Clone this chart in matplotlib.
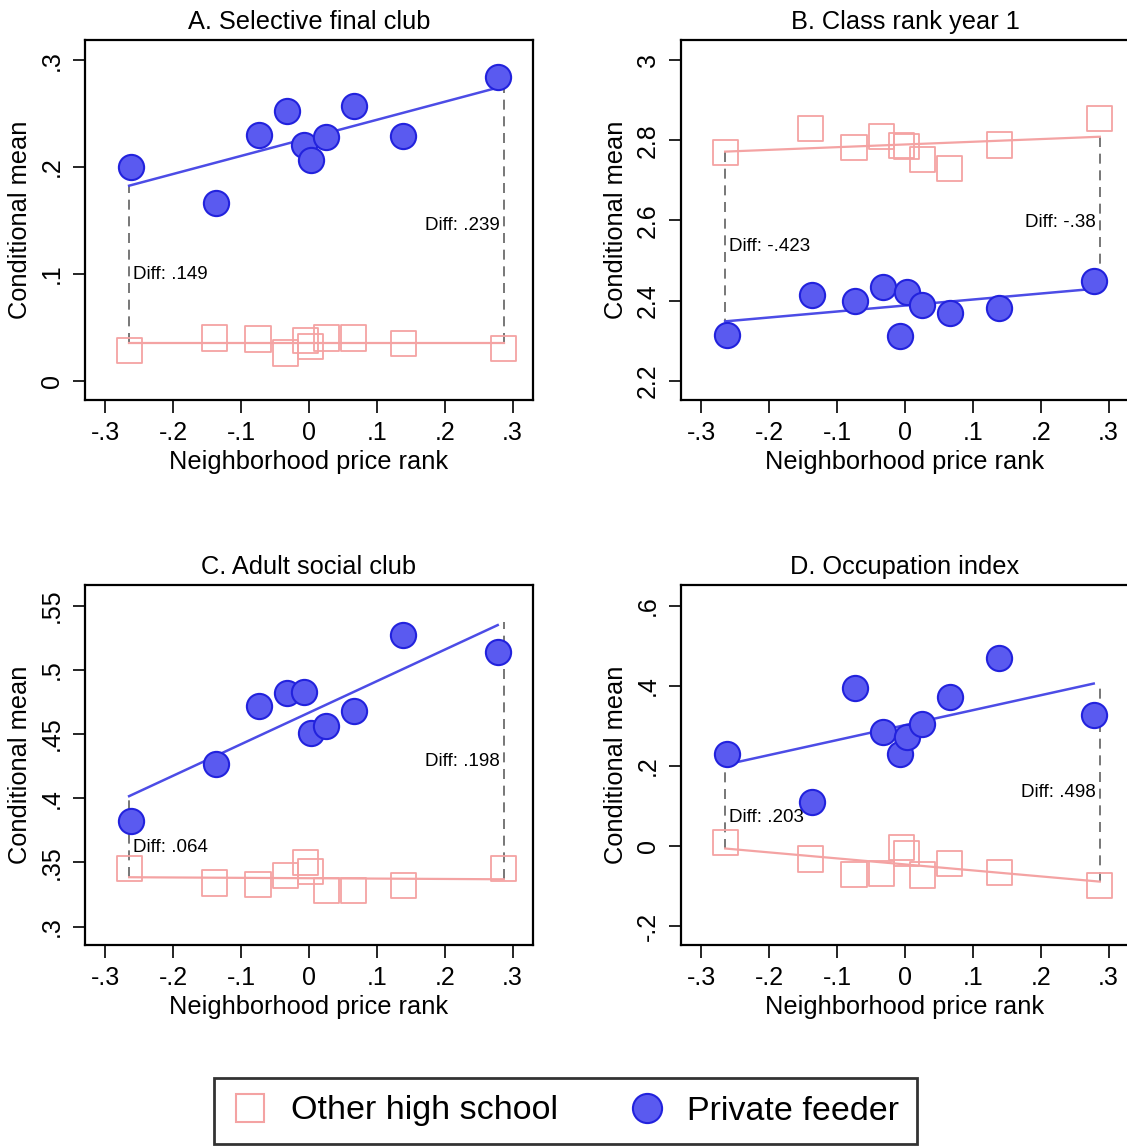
import numpy as np
import matplotlib
matplotlib.use("Agg")
import matplotlib.pyplot as plt
from matplotlib.ticker import FuncFormatter
from matplotlib.lines import Line2D

plt.rcParams['font.family'] = ['Liberation Sans', 'DejaVu Sans']

# x positions of the binned points (neighborhood price rank)
priv_x = [-0.262, -0.137, -0.074, -0.032, -0.008, 0.003, 0.025, 0.066, 0.139, 0.278]
other_x = [-0.265, -0.139, -0.075, -0.035, -0.005, 0.002, 0.026, 0.065, 0.139, 0.287]

titles = ["A. Selective final club", "B. Class rank year 1",
          "C. Adult social club", "D. Occupation index"]

# conditional means, private feeder
priv_a = [0.200, 0.166, 0.230, 0.253, 0.221, 0.207, 0.228, 0.257, 0.229, 0.284]
priv_b = [2.313, 2.415, 2.399, 2.435, 2.312, 2.421, 2.388, 2.370, 2.382, 2.449]
priv_c = [0.382, 0.4265, 0.472, 0.482, 0.483, 0.451, 0.456, 0.468, 0.527, 0.514]
priv_d = [0.230, 0.111, 0.394, 0.286, 0.230, 0.272, 0.304, 0.372, 0.471, 0.3275]

# conditional means, other high school
other_a = [0.028, 0.040, 0.039, 0.026, 0.038, 0.032, 0.040, 0.040, 0.035, 0.030]
other_b = [2.769, 2.830, 2.782, 2.809, 2.786, 2.784, 2.751, 2.730, 2.788, 2.855]
other_c = [0.345, 0.334, 0.333, 0.340, 0.350, 0.343, 0.328, 0.328, 0.332, 0.345]
other_d = [0.009, -0.0325, -0.071, -0.068, -0.004, -0.018, -0.0725, -0.043, -0.066, -0.099]

# fitted lines (intercept, slope)
fit_priv = [(0.2274, 0.169), (2.3877, 0.1493), (0.4666, 0.2453), (0.3022, 0.3737)]
fit_other = [(0.035, 0.0), (2.7894, 0.0673), (0.3377, -0.0029), (-0.046, -0.150)]

diff_left = ["Diff: .149", "Diff: -.423", "Diff: .064", "Diff: .203"]
diff_right = ["Diff: .239", "Diff: -.38", "Diff: .198", "Diff: .498"]

yticks = [[0, 0.1, 0.2, 0.3], [2.2, 2.4, 2.6, 2.8, 3.0],
          [0.3, 0.35, 0.4, 0.45, 0.5, 0.55], [-0.2, 0, 0.2, 0.4, 0.6]]
ylims = [(-0.018, 0.319), (2.152, 3.05), (0.2857, 0.566), (-0.2475, 0.6525)]
xticks = [-0.3, -0.2, -0.1, 0, 0.1, 0.2, 0.3]

priv_y = [priv_a, priv_b, priv_c, priv_d]
other_y = [other_a, other_b, other_c, other_d]

BLUE_FILL = '#5a5af0'
BLUE_EDGE = '#2222dd'
BLUE_LINE = '#4c4ce6'
PINK = '#f4a3a3'
GRAY = '#606060'


def short(v, pos=None):
    s = f"{v:g}"
    if s.startswith("0."):
        s = s[1:]
    elif s.startswith("-0."):
        s = "-" + s[2:]
    return s


W, H = 1127, 1146
fig = plt.figure(figsize=(W / 100, H / 100), dpi=100)

# axes boxes in pixels: left, top
boxes = [(85, 40), (681, 40), (85, 585), (681, 585)]
bw, bh = 448, 360

for i in range(4):
    l, t = boxes[i]
    ax = fig.add_axes([l / W, 1 - (t + bh) / H, bw / W, bh / H])
    px = np.array(priv_x)
    ox = np.array(other_x)

    ax.scatter(ox, other_y[i], marker='s', s=330, facecolors='none',
               edgecolors=PINK, linewidths=1.3, zorder=3)
    ax.scatter(px, priv_y[i], marker='o', s=330, facecolors=BLUE_FILL,
               edgecolors=BLUE_EDGE, linewidths=1.5, zorder=4)

    x0 = ox.min()
    x1o = ox.max()
    x1p = px.max()
    b0, m0 = fit_other[i]
    b1, m1 = fit_priv[i]
    ax.plot([x0, x1o], [b0 + m0 * x0, b0 + m0 * x1o], color=PINK, lw=1.6, zorder=2)
    ax.plot([x0, x1p], [b1 + m1 * x0, b1 + m1 * x1p], color=BLUE_LINE, lw=1.8, zorder=2)

    # dashed gaps at both ends
    for xe, lab, ha, dx in [(x0, diff_left[i], 'left', 3), (x1o, diff_right[i], 'right', -3)]:
        ya = b0 + m0 * xe
        yb = b1 + m1 * xe
        ax.plot([xe, xe], [ya, yb], color=GRAY, lw=1.2, ls=(0, (6, 4)), zorder=1)
        ax.annotate(lab, xy=(xe, (ya + yb) / 2), xytext=(dx, -7.5),
                    textcoords='offset points', ha=ha, va='center',
                    fontsize=13.5, color='black')

    ax.set_xlim(-0.33, 0.33)
    ax.set_ylim(*ylims[i])
    ax.set_xticks(xticks)
    ax.set_yticks(yticks[i])
    ax.xaxis.set_major_formatter(FuncFormatter(short))
    ax.yaxis.set_major_formatter(FuncFormatter(short))
    ax.tick_params(length=9, width=1.2, labelsize=18, color='black', pad=6)
    ax.tick_params(axis='y', labelrotation=90)
    for lab in ax.get_yticklabels():
        lab.set_va('center')
    for sp in ax.spines.values():
        sp.set_linewidth(1.6)
    ax.set_xlabel("Neighborhood price rank", fontsize=18.3, labelpad=4)
    ax.set_ylabel("Conditional mean", fontsize=18.3, labelpad=6)
    ax.set_title(titles[i], fontsize=18.3, pad=8)

handles = [
    Line2D([], [], marker='s', ls='none', markersize=20, markerfacecolor='none',
           markeredgecolor=PINK, markeredgewidth=1.5, label='Other high school'),
    Line2D([], [], marker='o', ls='none', markersize=21, markerfacecolor=BLUE_FILL,
           markeredgecolor=BLUE_EDGE, markeredgewidth=1.5, label='Private feeder'),
]
leg = fig.legend(handles=handles, loc='center', bbox_to_anchor=(565.5 / W, 1 - 1111 / H),
                 ncol=2, fontsize=24.5, frameon=True, fancybox=False, edgecolor='black',
                 handlelength=1.1, handletextpad=0.65, columnspacing=2.05, borderpad=0.52)
leg.get_frame().set_linewidth(2.0)

fig.savefig("out.png", dpi=100)
